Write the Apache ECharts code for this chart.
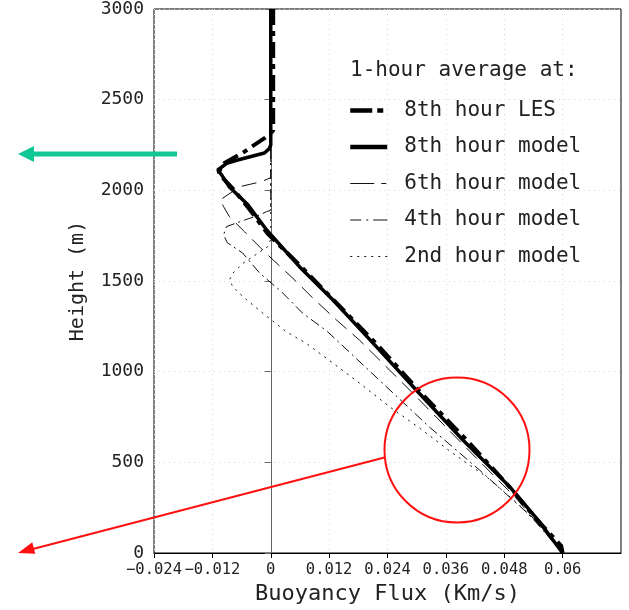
<!DOCTYPE html>
<html><head><meta charset="utf-8">
<script src="https://cdn.jsdelivr.net/npm/echarts@6/dist/echarts.min.js"></script>
<style>html,body{margin:0;padding:0;background:#fff}#c{width:629px;height:610px}</style>
</head><body><div id="c"></div>
<script>
// ---- data (x = buoyancy flux K m/s, y = height m) ----
const seriesNames = ['8th hour LES', '8th hour model', '6th hour model', '4th hour model', '2nd hour model'];
const les8 = [[0.0005,3000],[0.0005,2330],[-0.0002,2310],[-0.0012,2289],[-0.0043,2234],[-0.0058,2206],[-0.0095,2151],[-0.0107,2101],[-0.0096,2060],[-0.0078,2010],[-0.0045,1900],[-0.0006,1760],[0.0064,1575],[0.0131,1390],[0.0222,1140],[0.0303,900],[0.0402,625],[0.0489,370],[0.0545,190],[0.0597,40],[0.0600,0]];
const model8 = [[0,3000],[0,2250],[-0.0003,2230],[-0.0013,2206],[-0.0068,2167],[-0.0089,2151],[-0.0109,2112],[-0.0101,2085],[-0.0085,2018],[-0.0047,1920],[-0.0008,1780],[0.0059,1579],[0.0128,1395],[0.0217,1138],[0.0299,899],[0.0395,623],[0.0491,366],[0.0550,180],[0.0600,0]];
const model6 = [[0,3000],[0,2070],[-0.0019,2048],[-0.0064,2020],[-0.0104,1947],[-0.0097,1910],[-0.0085,1855],[-0.0054,1772],[-0.0006,1643],[0.0042,1524],[0.0087,1405],[0.0135,1285],[0.0182,1175],[0.0290,887],[0.0396,596],[0.0503,306],[0.0600,0]];
const model4 = [[0,3000],[0,1890],[-0.0009,1882],[-0.0023,1864],[-0.0054,1836],[-0.0091,1800],[-0.0097,1754],[-0.0089,1710],[-0.0058,1655],[-0.0023,1544],[0.0022,1441],[0.0065,1324],[0.0117,1220],[0.0223,954],[0.0326,695],[0.0429,458],[0.0532,210],[0.0600,0]];
const model2 = [[0,3000],[0,1730],[-0.0006,1690],[-0.0057,1598],[-0.0078,1543],[-0.0085,1506],[-0.0078,1469],[-0.0057,1413],[-0.0016,1322],[0.0032,1220],[0.0073,1156],[0.0124,1055],[0.0182,938],[0.0244,807],[0.0306,689],[0.0373,552],[0.0443,421],[0.0511,265],[0.0560,130],[0.0600,0]];
const xTickValues = [-0.024, -0.012, 0, 0.012, 0.024, 0.036, 0.048, 0.06];
const yTickValues = [0, 500, 1000, 1500, 2000, 2500, 3000];

const mono = 'DejaVu Sans Mono';
const txt = '#222';
function fmtX(v){ const s = String(Number(v.toFixed(3))); return s.replace('-', '\u2212'); }

const chart = echarts.init(document.getElementById('c'), null, {renderer:'canvas'});
chart.setOption({
  animation:false,
  backgroundColor:'#fff',
  grid:{left:154, right:8, top:9, bottom:57, show:true, borderColor:'#000', borderWidth:1},
  title:{text:'1-hour average at:', left:345, top:55, textStyle:{fontFamily:mono, fontSize:21, fontWeight:'normal', color:txt}},
  legend:{
    orient:'vertical', left:343, top:95, itemWidth:37, itemHeight:14, itemGap:15.5,
    data:[
      {name:seriesNames[0], lineStyle:{width:4.5, type:[22,5,6,20]}},
      {name:seriesNames[1], lineStyle:{width:4.5, type:'solid'}},
      {name:seriesNames[2], lineStyle:{width:1.2, type:[24,7,5,20]}},
      {name:seriesNames[3], lineStyle:{width:1.2, type:[11,5,2,5,14]}},
      {name:seriesNames[4], lineStyle:{width:1.2, type:[2,5]}}
    ],
    itemStyle:{opacity:0, borderWidth:0},
    textStyle:{fontFamily:mono, fontSize:21, color:txt, padding:[0,0,0,12]},
    inactiveColor:'#000'
  },
  xAxis:{
    type:'value', min:-0.024, max:0.072, interval:0.012,
    name:'Buoyancy Flux (Km/s)', nameLocation:'middle', nameGap:30,
    nameTextStyle:{fontFamily:mono, fontSize:22, color:txt},
    axisLine:{show:true, onZero:false, lineStyle:{color:'#000', width:1}},
    axisTick:{show:true, length:5, lineStyle:{color:'#000'}, customValues:xTickValues},
    axisLabel:{fontFamily:mono, fontSize:15.5, color:txt, margin:9, customValues:xTickValues, formatter:fmtX, showMinLabel:true, hideOverlap:false},
    splitLine:{show:true, lineStyle:{color:'#d8d8d8', type:[1,4], width:1}}
  },
  yAxis:{
    type:'value', min:0, max:3000, interval:500,
    name:'Height (m)', nameLocation:'middle', nameGap:66,
    nameTextStyle:{fontFamily:mono, fontSize:20, color:txt},
    axisLine:{show:true, lineStyle:{color:'#666', width:1}},
    axisTick:{show:true, length:6, lineStyle:{color:'#666'}, customValues:yTickValues},
    axisLabel:{fontFamily:mono, fontSize:18, color:txt, margin:10, customValues:yTickValues, formatter:function(v){return String(v);}, showMinLabel:true},
    splitLine:{show:true, lineStyle:{color:'#d8d8d8', type:[1,4], width:1}}
  },
  series:[
    {name:seriesNames[4], type:'line', data:model2, symbol:'none', z:2, color:'#000', lineStyle:{color:'#111', width:1, type:[2,5]}},
    {name:seriesNames[3], type:'line', data:model4, symbol:'none', z:2, color:'#000', lineStyle:{color:'#111', width:1, type:[10,4,2,4]}},
    {name:seriesNames[2], type:'line', data:model6, symbol:'none', z:2, color:'#000', lineStyle:{color:'#111', width:1, type:[15,8]}},
    {name:seriesNames[1], type:'line', data:model8, symbol:'none', z:3, color:'#000', lineStyle:{color:'#000', width:3.5, type:'solid'}},
    {name:seriesNames[0], type:'line', data:les8, symbol:'none', z:4, color:'#000', lineStyle:{color:'#000', width:4, type:[16,6,5,6]}}
  ],
  graphic:[
    {type:'line', z:100, shape:{x1:177, y1:154, x2:31, y2:154}, style:{stroke:'#10c896', lineWidth:5}},
    {type:'polygon', z:100, shape:{points:[[18,154],[34,146],[34,162]]}, style:{fill:'#10c896'}},
    {type:'circle', z:100, shape:{cx:457, cy:450, r:72.5}, style:{fill:'none', stroke:'#ff1010', lineWidth:2}},
    {type:'line', z:100, shape:{x1:384.5, y1:457.5, x2:30, y2:549.8}, style:{stroke:'#ff1010', lineWidth:2}},
    {type:'polygon', z:100, shape:{points:[[18,553],[32.3,542.2],[35.3,553.8]]}, style:{fill:'#ff1010'}}
  ]
});
</script></body></html>
